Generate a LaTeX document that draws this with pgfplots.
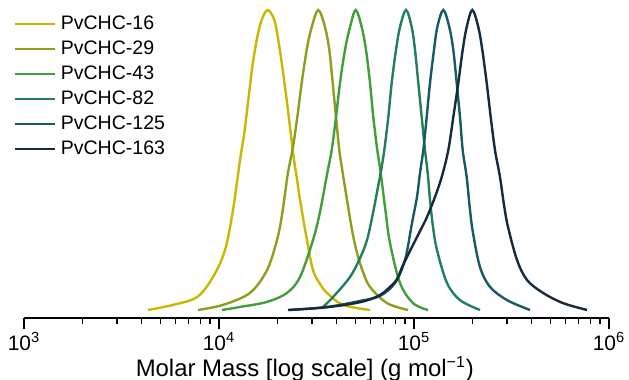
\documentclass[border=0pt]{standalone}
\usepackage{fontspec}
\setmainfont{Liberation Sans}
\usepackage{pgfplots}
\pgfplotsset{compat=1.18}
\definecolor{c1}{RGB}{201,183,0}
\definecolor{c2}{RGB}{138,160,30}
\definecolor{c3}{RGB}{66,158,56}
\definecolor{c4}{RGB}{33,128,88}
\definecolor{c5}{RGB}{22,90,98}
\definecolor{c6}{RGB}{22,42,60}
\begin{document}
\begin{tikzpicture}
\path[use as bounding box] (-12bp,-31bp) rectangle (302.5bp,159bp);
\begin{axis}[
  scale only axis, width=292.5bp, height=154bp,
  at={(0,0)}, anchor=south west,
  xmode=log, xmin=1000, xmax=1000000,
  ymin=-0.0267, ymax=1,
  axis y line=none, axis x line*=bottom,
  xtick={1000,10000,100000,1000000},
  xticklabels={10\textsuperscript{3},10\textsuperscript{4},10\textsuperscript{5},10\textsuperscript{6}},
  minor xtick={2000,3000,4000,5000,6000,7000,8000,9000,20000,30000,40000,50000,60000,70000,80000,90000,200000,300000,400000,500000,600000,700000,800000,900000},
  xtick align=outside,
  major tick length=5.5bp, minor tick length=3bp,
  every tick/.style={line width=0.6bp, black},
  axis line style={line width=0.6bp, black},
  ticklabel style={font=\fontsize{10.5}{12}\selectfont, inner sep=1.5bp},
  xlabel={Molar Mass [log scale] (g mol\textsuperscript{−1})},
  xlabel style={font=\fontsize{12}{14}\selectfont, at={(axis description cs:0.48,0)}, anchor=base, yshift=-29bp},
  clip=false,
  every axis plot/.append style={line width=1.2bp, smooth, tension=0.55},
  legend style={at={(axis description cs:-0.0188,1.0)}, anchor=north west, draw=none, fill=none,
    inner sep=0pt, row sep=-0.8bp, font=\fontsize{9.8}{11}\selectfont, nodes={inner sep=2.5bp}},
  legend cell align=left,
  legend image code/.code={\draw[#1, line width=1.2bp] (0bp,0bp) -- (20bp,0bp);},
]
\addplot[c1] coordinates {
(4324,0) (5808,0.017) (7713,0.043) (9316,0.110) (10735,0.200) (11797,0.333) (12815,0.500)
(13482,0.590) (14134,0.700) (14817,0.810) (15608,0.900) (16557,0.967) (17772,1.000) (19213,0.967)
(20142,0.900) (21117,0.810) (22242,0.700) (23318,0.590) (24245,0.500) (25030,0.443) (26022,0.367)
(28267,0.233) (30343,0.133) (32957,0.087) (35797,0.057) (43240,0.017) (59480,0)};
\addlegendentry{PvCHC-16}
\addplot[c2] coordinates {
(7804,0) (10484,0.017) (14420,0.057) (17626,0.133) (19836,0.233) (21042,0.317) (22400,0.443) (23126,0.493)
(24045,0.550) (25208,0.643) (26552,0.757) (28167,0.867) (29880,0.943) (32302,1.000) (34962,0.943)
(36783,0.867) (38290,0.757) (39811,0.643) (41392,0.533) (43088,0.457) (45332,0.367) (48089,0.267)
(51014,0.190) (54760,0.127) (59480,0.077) (72700,0.023) (93160,0)};
\addlegendentry{PvCHC-29}
\addplot[c3] coordinates {
(10360,0) (12815,0.010) (17626,0.027) (22322,0.057) (26022,0.110) (30343,0.233) (32957,0.327) (35924,0.457)
(37840,0.533) (39811,0.643) (41736,0.757) (44275,0.867) (46967,0.943) (50238,1.000) (53925,0.943)
(56735,0.867) (59480,0.757) (61840,0.643) (64830,0.533) (67490,0.457) (71850,0.317) (75320,0.223)
(84760,0.090) (98830,0.023) (117970,0)};
\addlegendentry{PvCHC-43}
\addplot[c4] coordinates {
(34145,0.010) (38425,0.043) (46967,0.110) (52855,0.173) (57410,0.233) (61620,0.323) (65370,0.410) (67490,0.457)
(70420,0.533) (73830,0.643) (76850,0.757) (80850,0.867) (84760,0.943) (90985,1.000) (97320,0.943)
(101190,0.867) (105210,0.757) (109520,0.643) (113870,0.533) (117560,0.457) (120790,0.367) (125150,0.277)
(131210,0.200) (147650,0.090) (172150,0.033) (218000,0)};
\addlegendentry{PvCHC-82}
\addplot[c5] coordinates {
(23126,0) (35797,0.010) (52855,0.030) (66930,0.047) (79900,0.090) (89920,0.167) (97660,0.290) (103600,0.377)
(107350,0.457) (111610,0.533) (116180,0.643) (120790,0.757) (126640,0.867) (131670,0.943) (141340,1.000)
(151710,0.943) (159050,0.867) (165570,0.757) (172150,0.643) (177720,0.533) (186310,0.443) (193720,0.333)
(200700,0.257) (218000,0.143) (245330,0.077) (299860,0.033) (393450,0)};
\addlegendentry{PvCHC-125}
\addplot[c6] coordinates {
(22587,0) (32957,0.007) (44275,0.017) (56070,0.030) (66930,0.050) (75320,0.077) (81810,0.103) (87820,0.150)
(95390,0.197) (107350,0.263) (116590,0.310) (128150,0.377) (138690,0.443) (149930,0.533) (159050,0.643)
(168730,0.757) (177720,0.867) (186310,0.943) (199060,1.000) (213660,0.943) (224000,0.867) (235950,0.757)
(247400,0.643) (260220,0.533) (276070,0.443) (289430,0.350) (303430,0.277) (337450,0.167) (379750,0.100)
(458700,0.057) (580800,0.023) (771300,0)};
\addlegendentry{PvCHC-163}
\end{axis}
\end{tikzpicture}
\end{document}
